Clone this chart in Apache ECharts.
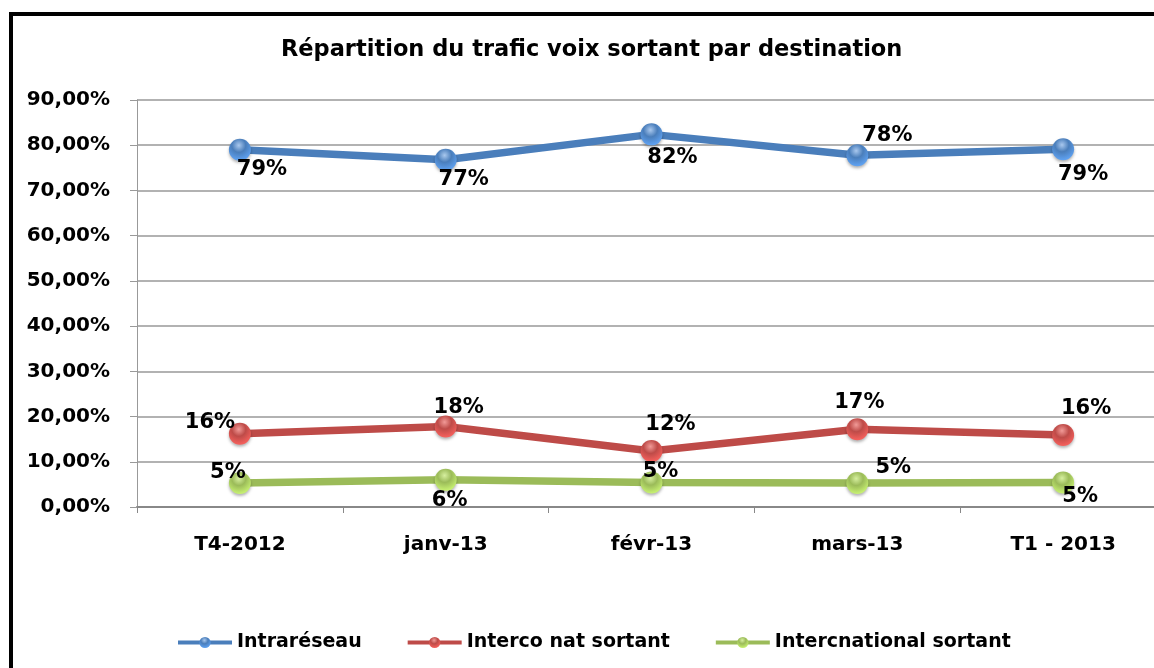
<!DOCTYPE html>
<html>
<head>
<meta charset="utf-8">
<script src="https://cdn.jsdelivr.net/npm/echarts@6/dist/echarts.min.js"></script>
<style>
  html, body { margin: 0; padding: 0; background: #fff; overflow: hidden; }
  #chart { width: 1180px; height: 668px; }
</style>
</head>
<body>
<div id="chart"></div>
<script>
// data (percent)
let categories = ['T4-2012', 'janv-13', 'févr-13', 'mars-13', 'T1 - 2013'];
let intrareseau = [79.0, 76.8, 82.4, 77.8, 79.1];
let intercoNat = [16.2, 17.8, 12.4, 17.2, 15.9];
let international = [5.3, 6.0, 5.4, 5.3, 5.4];
let yTicks = { min: 0, max: 90, interval: 10 };

// label offsets from each marker (layout only)
let offIntra = [[22, 20], [18, 20], [21, 23], [30, -20], [20, 25]];
let offInterco = [[-30, -11], [13, -19], [19, -26], [2, -27], [23, -27]];
let offInter = [[-12, -10], [4, 21], [9, -11], [36, -15], [17, 14]];

const FONT = 'DejaVu Sans';

function sphere(base, light) {
    return new echarts.graphic.RadialGradient(0.45, 0.3, 0.7, [
        { offset: 0, color: light },
        { offset: 0.45, color: base },
        { offset: 1, color: echarts.color.lift(base, -0.3) }
    ]);
}

function makeSeries(name, values, offsets, color, light) {
    return {
        name: name,
        type: 'line',
        data: values.map((v, i) => ({
            value: v,
            label: { offset: offsets[i] }
        })),
        symbol: 'circle',
        symbolSize: 22,
        lineStyle: { color: color, width: 7.5 },
        itemStyle: {
            color: sphere(color, light),
            borderWidth: 0,
            shadowColor: 'rgba(0,0,0,0.3)',
            shadowBlur: 3,
            shadowOffsetY: 2
        },
        label: {
            show: true,
            position: 'inside',
            formatter: p => Math.round(p.value) + '%',
            fontFamily: FONT,
            fontWeight: 'bold',
            fontSize: 21,
            color: '#000'
        },
        emphasis: { disabled: true },
        z: 3
    };
}

let chart = echarts.init(document.getElementById('chart'), null, { renderer: 'canvas' });

chart.setOption({
    animation: false,
    backgroundColor: '#fff',
    title: {
        text: 'Répartition du trafic voix sortant par destination',
        left: 276,
        top: 34,
        textStyle: { fontFamily: FONT, fontWeight: 'bold', fontSize: 22.5, color: '#000' }
    },
    graphic: [{
        type: 'rect',
        shape: { x: 11, y: 14, width: 1200, height: 700 },
        style: { fill: 'none', stroke: '#000', lineWidth: 4 },
        silent: true
    }],
    legend: {
        left: 171,
        top: 628,
        itemWidth: 54,
        itemHeight: 14,
        itemGap: 44,
        lineStyle: { width: 4 },
        textStyle: { fontFamily: FONT, fontWeight: 'bold', fontSize: 19, color: '#000' },
        data: ['Intraréseau', 'Interco nat sortant', 'Intercnational sortant']
    },
    grid: { left: 137, width: 1029, top: 100, height: 407, containLabel: false },
    xAxis: {
        type: 'category',
        data: categories,
        axisLine: { lineStyle: { color: '#888', width: 2 } },
        axisTick: { show: true, length: 6, lineStyle: { color: '#888' } },
        axisLabel: { margin: 28, fontFamily: FONT, fontWeight: 'bold', fontSize: 20, color: '#000' }
    },
    yAxis: {
        type: 'value',
        min: yTicks.min,
        max: yTicks.max,
        interval: yTicks.interval,
        axisLine: { show: true, lineStyle: { color: '#999', width: 1 } },
        axisTick: { show: true, length: 7, lineStyle: { color: '#999' } },
        splitLine: { lineStyle: { color: '#999', width: 1.5 } },
        axisLabel: {
            margin: 27,
            formatter: v => v.toFixed(2).replace('.', ',') + '%',
            fontFamily: FONT, fontWeight: 'bold', fontSize: 20, color: '#000'
        }
    },
    series: [
        makeSeries('Intraréseau', intrareseau, offIntra, '#4a7ebb', '#a9c8ee'),
        makeSeries('Interco nat sortant', intercoNat, offInterco, '#be4b48', '#f19a97'),
        makeSeries('Intercnational sortant', international, offInter, '#9bbb59', '#d6ef9f')
    ]
});
</script>
</body>
</html>
